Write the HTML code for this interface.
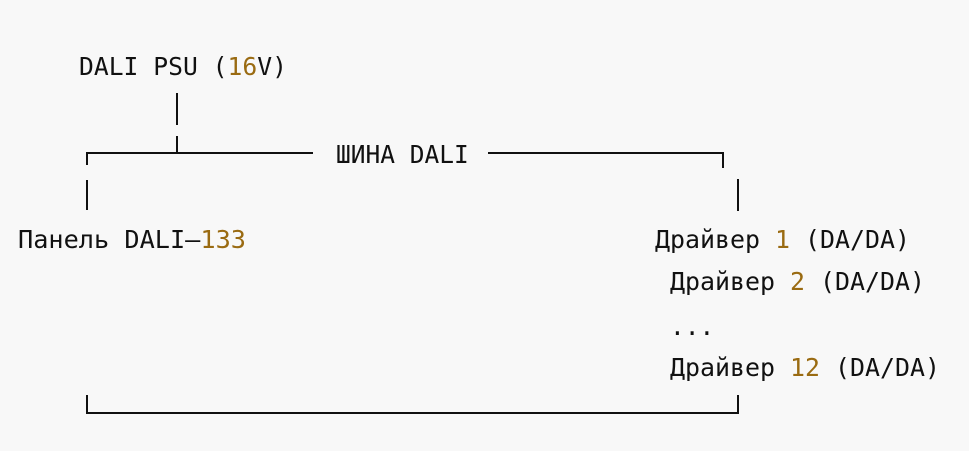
<!DOCTYPE html>
<html><head><meta charset="utf-8"><style>
html,body{margin:0;padding:0;background:#f8f8f8;}
svg{display:block}
text{font-family:"DejaVu Sans Mono","Liberation Mono",monospace;font-size:24.5px;fill:#111;}
.n{fill:#9a6b12;}
</style></head><body>
<svg width="969" height="451" viewBox="0 0 969 451">
<g stroke="#111" stroke-width="2" fill="none">
<line x1="177" y1="93" x2="177" y2="125"/>
<line x1="177" y1="136" x2="177" y2="153"/>
<polyline points="87,165 87,153 313,153"/>
<polyline points="488,153 723,153 723,168"/>
<line x1="87" y1="180" x2="87" y2="210"/>
<line x1="738" y1="179" x2="738" y2="211"/>
<polyline points="87,395 87,413 738,413 738,395"/>
</g>
<text x="79" y="75" textLength="208" lengthAdjust="spacingAndGlyphs">DALI PSU (<tspan class="n">16</tspan>V)</text>
<text x="336" y="163">ШИНА DALI</text>
<text x="18" y="248" textLength="228" lengthAdjust="spacingAndGlyphs">Панель DALI–<tspan class="n">133</tspan></text>
<text x="655" y="248" textLength="255" lengthAdjust="spacingAndGlyphs">Драйвер <tspan class="n">1</tspan> (DA/DA)</text>
<text x="670" y="290" textLength="255" lengthAdjust="spacingAndGlyphs">Драйвер <tspan class="n">2</tspan> (DA/DA)</text>
<text x="670" y="335">...</text>
<text x="670" y="376" textLength="270" lengthAdjust="spacingAndGlyphs">Драйвер <tspan class="n">12</tspan> (DA/DA)</text>
</svg>
</body></html>
